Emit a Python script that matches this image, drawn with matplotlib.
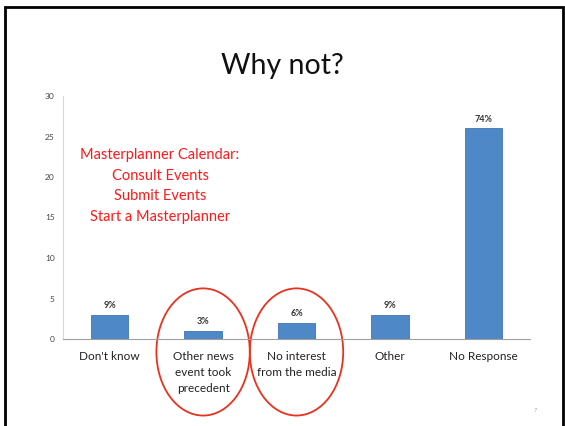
import matplotlib.pyplot as plt
from matplotlib.patches import Ellipse, Rectangle

categories = ["Don't know", "Other news\nevent took\nprecedent", "No interest\nfrom the media", "Other", "No Response"]
counts = [3, 1, 2, 3, 26]
pct_labels = ["9%", "3%", "6%", "9%", "74%"]
circled = [1, 2]
note_lines = ["Masterplanner Calendar:", "Consult Events", "Submit Events", "Start a Masterplanner"]

plt.rcParams['font.family'] = ['Lato', 'DejaVu Sans']

fig = plt.figure(figsize=(5.65, 4.26), dpi=100)
ax = fig.add_axes([63 / 565, 1 - 339 / 426, 467 / 565, 243 / 426])

x = range(len(categories))
ax.bar(x, counts, width=0.4, color="#4f88c6", edgecolor="#3f76b4", linewidth=0.6)
for i, (c, p) in enumerate(zip(counts, pct_labels)):
    ax.text(i, c + 0.6, p, ha="center", va="bottom", fontsize=6.5, color="#333333",
            fontweight="bold")

ax.set_xlim(-0.5, len(categories) - 0.5)
ax.set_ylim(0, 30)
ax.set_yticks(range(0, 31, 5))
ax.set_xticks(list(x))
ax.set_xticklabels(categories, fontsize=8.5, color="#222222", linespacing=1.55)
ax.tick_params(axis="y", labelsize=6, colors="#444444", length=0, pad=6)
ax.tick_params(axis="x", length=0, pad=9)
for s in ["top", "right"]:
    ax.spines[s].set_visible(False)
ax.spines["left"].set_color("#d8d8d8")
ax.spines["bottom"].set_color("#a0a0a0")
ax.spines["left"].set_linewidth(0.8)
ax.spines["bottom"].set_linewidth(0.8)

# red circles around two answers
for i in circled:
    ax.add_patch(Ellipse((i, -1.6), 1.0, 15.7, fill=False, edgecolor="#e8321e",
                         linewidth=1.3, clip_on=False))

# red note
fig.text(160 / 565, 1 - 186 / 426, "\n".join(note_lines), ha="center", va="center",
         fontsize=10.5, color="#ff1a1a", linespacing=1.6)

fig.text(0.5, 1 - 66 / 426, "Why not?", ha="center", va="center", fontsize=20.5, color="#111111")
fig.text(535 / 565, 1 - 410 / 426, "7", ha="center", va="center", fontsize=4, color="#aaaaaa")

# slide border
fig.patches.append(Rectangle((5 / 565, -0.05), 558 / 565, 1.05 - 7 / 426, transform=fig.transFigure,
                             fill=False, edgecolor="black", linewidth=2))

fig.savefig("out.png", dpi=100)
